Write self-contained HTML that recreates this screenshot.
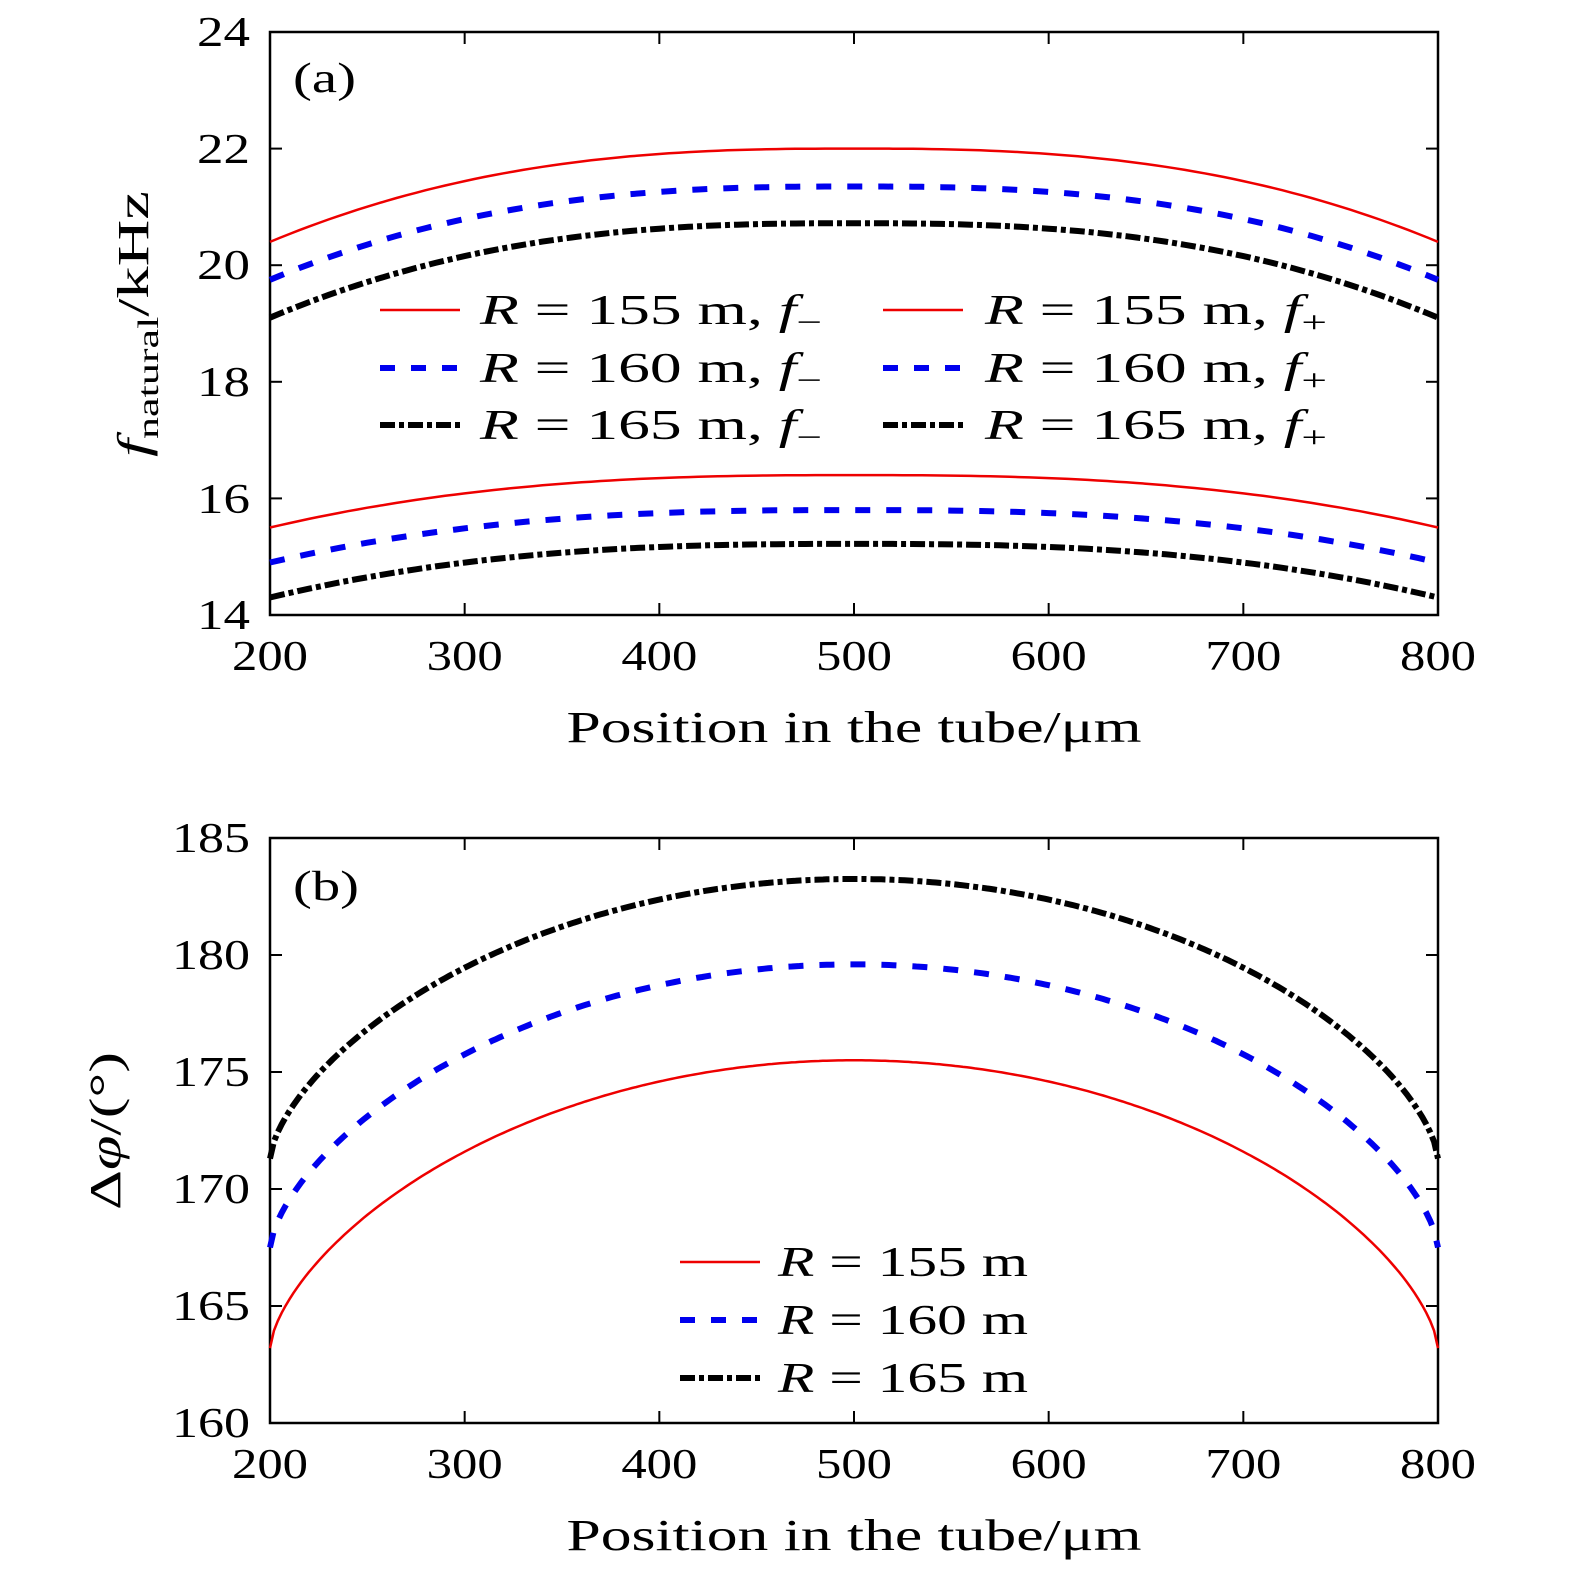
<!DOCTYPE html>
<html><head><meta charset="utf-8"><style>
body{margin:0;background:#fff;}
svg text{font-family:"Liberation Serif","DejaVu Serif",serif;fill:#000;}
</style></head><body>
<svg id="s" width="1575" height="1585" xmlns="http://www.w3.org/2000/svg">
<g font-size="42" text-anchor="middle" lengthAdjust="spacingAndGlyphs">
<!-- panel a -->
<rect x="270" y="32" width="1168" height="583" fill="none" stroke="#000" stroke-width="2.5"/>
<text x="250" y="46" text-anchor="end" textLength="53" lengthAdjust="spacingAndGlyphs">24</text>
<text x="250" y="163" text-anchor="end" textLength="53" lengthAdjust="spacingAndGlyphs">22</text>
<text x="250" y="279" text-anchor="end" textLength="53" lengthAdjust="spacingAndGlyphs">20</text>
<text x="250" y="396" text-anchor="end" textLength="53" lengthAdjust="spacingAndGlyphs">18</text>
<text x="250" y="513" text-anchor="end" textLength="53" lengthAdjust="spacingAndGlyphs">16</text>
<text x="250" y="629" text-anchor="end" textLength="53" lengthAdjust="spacingAndGlyphs">14</text>
<g id="xa"></g>
<text x="854" y="742" font-size="44" textLength="575" lengthAdjust="spacingAndGlyphs">Position in the tube/μm</text>
<text x="293" y="92" text-anchor="start" textLength="63" lengthAdjust="spacingAndGlyphs">(a)</text>
<text transform="translate(148,324) rotate(-90)" font-size="44" textLength="266" lengthAdjust="spacingAndGlyphs"><tspan font-style="italic">f</tspan><tspan font-size="30" dy="10">natural</tspan><tspan dy="-10">/kHz</tspan></text>
<!-- panel b -->
<rect x="270" y="838" width="1168" height="585" fill="none" stroke="#000" stroke-width="2.5"/>
<text x="250" y="852" text-anchor="end" textLength="78" lengthAdjust="spacingAndGlyphs">185</text>
<text x="250" y="969" text-anchor="end" textLength="78" lengthAdjust="spacingAndGlyphs">180</text>
<text x="250" y="1086" text-anchor="end" textLength="78" lengthAdjust="spacingAndGlyphs">175</text>
<text x="250" y="1203" text-anchor="end" textLength="78" lengthAdjust="spacingAndGlyphs">170</text>
<text x="250" y="1320" text-anchor="end" textLength="78" lengthAdjust="spacingAndGlyphs">165</text>
<text x="250" y="1437" text-anchor="end" textLength="78" lengthAdjust="spacingAndGlyphs">160</text>
<text x="854" y="1550" font-size="44" textLength="575" lengthAdjust="spacingAndGlyphs">Position in the tube/μm</text>
<text x="293" y="900" text-anchor="start" textLength="66" lengthAdjust="spacingAndGlyphs">(b)</text>
<text transform="translate(120,1131) rotate(-90)" font-size="44" textLength="158" lengthAdjust="spacingAndGlyphs">Δ<tspan font-style="italic">φ</tspan>/(°)</text>
</g>
<g id="ticks" stroke="#000" stroke-width="2"></g>
<g id="curves" fill="none"></g>
<g font-size="42">
<line x1="380" y1="310" x2="460" y2="310" stroke="#e00" stroke-width="2.5"/>
<line x1="380" y1="368" x2="460" y2="368" stroke="#00e" stroke-width="6" stroke-dasharray="15 16"/>
<line x1="380" y1="425" x2="460" y2="425" stroke="#000" stroke-width="6" stroke-dasharray="15 4 5 4"/>
<text x="480" y="324" textLength="342" lengthAdjust="spacingAndGlyphs"><tspan font-style="italic">R</tspan> = 155 m, <tspan font-style="italic">f</tspan><tspan font-size="30" dy="8">−</tspan></text>
<text x="480" y="382" textLength="342" lengthAdjust="spacingAndGlyphs"><tspan font-style="italic">R</tspan> = 160 m, <tspan font-style="italic">f</tspan><tspan font-size="30" dy="8">−</tspan></text>
<text x="480" y="439" textLength="342" lengthAdjust="spacingAndGlyphs"><tspan font-style="italic">R</tspan> = 165 m, <tspan font-style="italic">f</tspan><tspan font-size="30" dy="8">−</tspan></text>
<line x1="883" y1="310" x2="963" y2="310" stroke="#e00" stroke-width="2.5"/>
<line x1="883" y1="368" x2="963" y2="368" stroke="#00e" stroke-width="6" stroke-dasharray="15 16"/>
<line x1="883" y1="425" x2="963" y2="425" stroke="#000" stroke-width="6" stroke-dasharray="15 4 5 4"/>
<text x="985" y="324" textLength="342" lengthAdjust="spacingAndGlyphs"><tspan font-style="italic">R</tspan> = 155 m, <tspan font-style="italic">f</tspan><tspan font-size="30" dy="8">+</tspan></text>
<text x="985" y="382" textLength="342" lengthAdjust="spacingAndGlyphs"><tspan font-style="italic">R</tspan> = 160 m, <tspan font-style="italic">f</tspan><tspan font-size="30" dy="8">+</tspan></text>
<text x="985" y="439" textLength="342" lengthAdjust="spacingAndGlyphs"><tspan font-style="italic">R</tspan> = 165 m, <tspan font-style="italic">f</tspan><tspan font-size="30" dy="8">+</tspan></text>
<line x1="680" y1="1262" x2="760" y2="1262" stroke="#e00" stroke-width="2.5"/>
<line x1="680" y1="1320" x2="760" y2="1320" stroke="#00e" stroke-width="6" stroke-dasharray="15 16"/>
<line x1="680" y1="1378" x2="760" y2="1378" stroke="#000" stroke-width="6" stroke-dasharray="15 4 5 4"/>
<text x="778" y="1276" textLength="250" lengthAdjust="spacingAndGlyphs"><tspan font-style="italic">R</tspan> = 155 m</text>
<text x="778" y="1334" textLength="250" lengthAdjust="spacingAndGlyphs"><tspan font-style="italic">R</tspan> = 160 m</text>
<text x="778" y="1392" textLength="250" lengthAdjust="spacingAndGlyphs"><tspan font-style="italic">R</tspan> = 165 m</text>
</g>
</svg>
<script>
function X(v){return 270+(v-200)*1168/600;}
var xa=document.getElementById("xa"),xs="";
for(var v=200;v<=800;v+=100){
xs+='<text x="'+X(v)+'" y="670" textLength="76" lengthAdjust="spacingAndGlyphs">'+v+'</text>';
xs+='<text x="'+X(v)+'" y="1478" textLength="76" lengthAdjust="spacingAndGlyphs">'+v+'</text>';}
xa.innerHTML=xs;
var tk=document.getElementById("ticks"),s="";
for(var v=300;v<800;v+=100){s+='<line x1="'+X(v)+'" y1="615" x2="'+X(v)+'" y2="603"/><line x1="'+X(v)+'" y1="32" x2="'+X(v)+'" y2="44"/>';
s+='<line x1="'+X(v)+'" y1="1423" x2="'+X(v)+'" y2="1411"/><line x1="'+X(v)+'" y1="838" x2="'+X(v)+'" y2="850"/>';}
for(var i=1;i<5;i++){var y=32+i*116.6;s+='<line x1="270" y1="'+y+'" x2="282" y2="'+y+'"/><line x1="1438" y1="'+y+'" x2="1426" y2="'+y+'"/>';
y=838+i*117;s+='<line x1="270" y1="'+y+'" x2="282" y2="'+y+'"/><line x1="1438" y1="'+y+'" x2="1426" y2="'+y+'"/>';}
tk.innerHTML=s;
function Ya(v){return 615-(v-14)*583/10;}
function Yb(v){return 1423-(v-160)*585/25;}
var cv="";
var styles={r:'stroke="#e00" stroke-width="2.5"',b:'stroke="#00e" stroke-width="6" stroke-dasharray="15 16"',k:'stroke="#000" stroke-width="6" stroke-dasharray="15 4 5 4"'};
function curveA(e,m,st){var d="";for(var x=200;x<=800;x+=5){var t=(x-500)/300;var f=1-Math.pow(Math.abs(t),2.6);d+=(x==200?"M":"L")+X(x).toFixed(1)+","+Ya(e+(m-e)*f).toFixed(1);}cv+='<path d="'+d+'" '+styles[st]+'/>';}
function curveB(e,m,st){var d="";for(var x=200;x<=800;x+=2){var t=(x-500)/300;var f=Math.pow(Math.max(0,1-t*t),0.65);d+=(x==200?"M":"L")+X(x).toFixed(1)+","+Yb(e+(m-e)*f).toFixed(1);}cv+='<path d="'+d+'" '+styles[st]+'/>';}
curveA(20.4,22.0,'r');curveA(19.75,21.35,'b');curveA(19.1,20.72,'k');
curveA(15.5,16.4,'r');curveA(14.9,15.8,'b');curveA(14.3,15.22,'k');
curveB(163.2,175.5,'r');curveB(167.5,179.6,'b');curveB(171.3,183.25,'k');
document.getElementById("curves").innerHTML=cv;
</script>
</body></html>
